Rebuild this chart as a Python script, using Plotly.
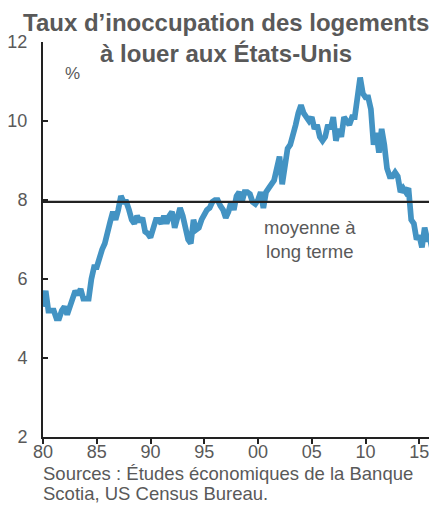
import plotly.graph_objects as go

years = list(range(1980, 2017))
vacancy = [
    5.3, 5.7, 5.2, 5.2,     # 1980
    5.2, 5.0, 5.0, 5.2,     # 1981
    5.3, 5.1, 5.3, 5.5,     # 1982
    5.7, 5.6, 5.75, 5.5,    # 1983
    5.5, 5.5, 6.0, 6.3,     # 1984
    6.3, 6.6, 6.75, 6.9,    # 1985
    7.25, 7.45, 7.7, 7.5,   # 1986
    7.75, 8.1, 7.95, 7.95,  # 1987
    7.75, 7.5, 7.4, 7.6,    # 1988
    7.45, 7.55, 7.2, 7.15,  # 1989
    7.05, 7.3, 7.5, 7.5,    # 1990
    7.4, 7.6, 7.4, 7.6,     # 1991
    7.7, 7.3, 7.6, 7.8,     # 1992
    7.6, 7.3, 7.0, 6.9,     # 1993
    7.5, 7.25, 7.3, 7.5,    # 1994
    7.65, 7.75, 7.8, 7.95,  # 1995
    8.0, 8.0, 7.85, 7.75,   # 1996
    7.55, 7.7, 7.95, 7.75,  # 1997
    8.1, 8.2, 7.95, 8.2,    # 1998
    8.2, 8.15, 7.95, 7.9,   # 1999
    8.0, 8.2, 7.8, 8.2,     # 2000
    8.3, 8.4, 8.5, 8.8,     # 2001
    9.1, 8.4, 9.0, 9.3,     # 2002
    9.4, 9.6, 9.9, 10.2,    # 2003
    10.4, 10.2, 10.1, 10.0, # 2004
    10.1, 9.8, 9.9, 9.6,    # 2005
    9.5, 9.6, 9.9, 9.8,     # 2006
    10.1, 9.5, 9.8, 9.6,    # 2007
    10.1, 10.0, 9.9, 10.1,  # 2008
    10.1, 10.6, 11.1, 10.7, # 2009
    10.6, 10.6, 10.3, 9.4,  # 2010
    9.7, 9.2, 9.8, 9.4,     # 2011
    8.8, 8.6, 8.6, 8.7,     # 2012
    8.6, 8.2, 8.3, 8.2,     # 2013
    8.3, 7.5, 7.4, 7.0,     # 2014
    7.1, 6.8, 7.3, 7.0,     # 2015
    7.0, 6.7, 6.8, 6.9,     # 2016
]
long_term_avg = 7.95
x_tick_vals = [1980, 1985, 1990, 1995, 2000, 2005, 2010, 2015]
x_tick_text = ["80", "85", "90", "95", "00", "05", "10", "15"]
y_tick_vals = [2, 4, 6, 8, 10, 12]
source_lines = ["Sources : Études économiques de la Banque", "Scotia, US Census Bureau."]

quarters = [y + q / 4 for y in years for q in range(4)]

FONT = "Liberation Sans, Arial, sans-serif"
GREY = "#595959"

# page body has an 8px margin, so the figure is 8px smaller than the window
W, H = 429, 500
L, T, B = 35, 34, 71
PW, PH = W - L, H - T - B


def py(fig_px):
    """figure pixel row -> paper y"""
    return (H - B - fig_px) / PH


fig = go.Figure()
fig.add_trace(go.Scatter(
    x=quarters, y=vacancy, mode="lines",
    line=dict(color="#4393C3", width=5.7),
    hoverinfo="skip", showlegend=False,
))
fig.add_trace(go.Scatter(
    x=[1980, 2016.65], y=[long_term_avg, long_term_avg], mode="lines",
    line=dict(color="#222222", width=2.2),
    hoverinfo="skip", showlegend=False,
))

annotations = [
    dict(
        text="<b>Taux d’inoccupation des logements<br>à louer aux États-Unis</b>",
        xref="paper", yref="paper", x=(218 - L) / PW, y=py(30.5),
        xanchor="center", yanchor="middle", showarrow=False,
        font=dict(size=24, color=GREY, family=FONT),
    ),
    dict(
        text="%", xref="x", yref="y", x=1982.7, y=11.2,
        xanchor="center", yanchor="middle", showarrow=False,
        font=dict(size=17, color=GREY, family=FONT),
    ),
    dict(
        text="moyenne à<br>long terme", xref="x", yref="y", x=2004.8, y=6.99,
        xanchor="center", yanchor="middle", showarrow=False,
        font=dict(size=18.5, color=GREY, family=FONT),
    ),
]
for line_text, row in zip(source_lines, [465, 486]):
    annotations.append(dict(
        text=line_text, xref="paper", yref="paper", x=-2 / PW, y=py(row),
        xanchor="left", yanchor="middle", align="left", showarrow=False,
        font=dict(size=18.5, color=GREY, family=FONT),
    ))

fig.update_layout(
    width=W, height=H,
    margin=dict(l=L, r=0, t=T, b=B, pad=0),
    plot_bgcolor="white", paper_bgcolor="white",
    font=dict(family=FONT, size=17, color=GREY),
    xaxis=dict(
        range=[1980, 2016.65], automargin=False,
        tickvals=x_tick_vals, ticktext=x_tick_text,
        ticks="outside", ticklen=5, tickwidth=2, tickcolor="#222222",
        showline=True, linecolor="#222222", linewidth=2,
        showgrid=False, zeroline=False,
        tickfont=dict(size=18, color=GREY),
        ticklabelstandoff=-8,
    ),
    yaxis=dict(
        range=[2, 12], automargin=False,
        tickvals=y_tick_vals,
        ticks="inside", ticklen=5, tickwidth=2, tickcolor="#222222",
        showline=True, linecolor="#222222", linewidth=2,
        showgrid=False, zeroline=False,
        tickfont=dict(size=18, color=GREY),
        ticklabelstandoff=10,
    ),
    annotations=annotations,
)

fig.write_html("out.html")
